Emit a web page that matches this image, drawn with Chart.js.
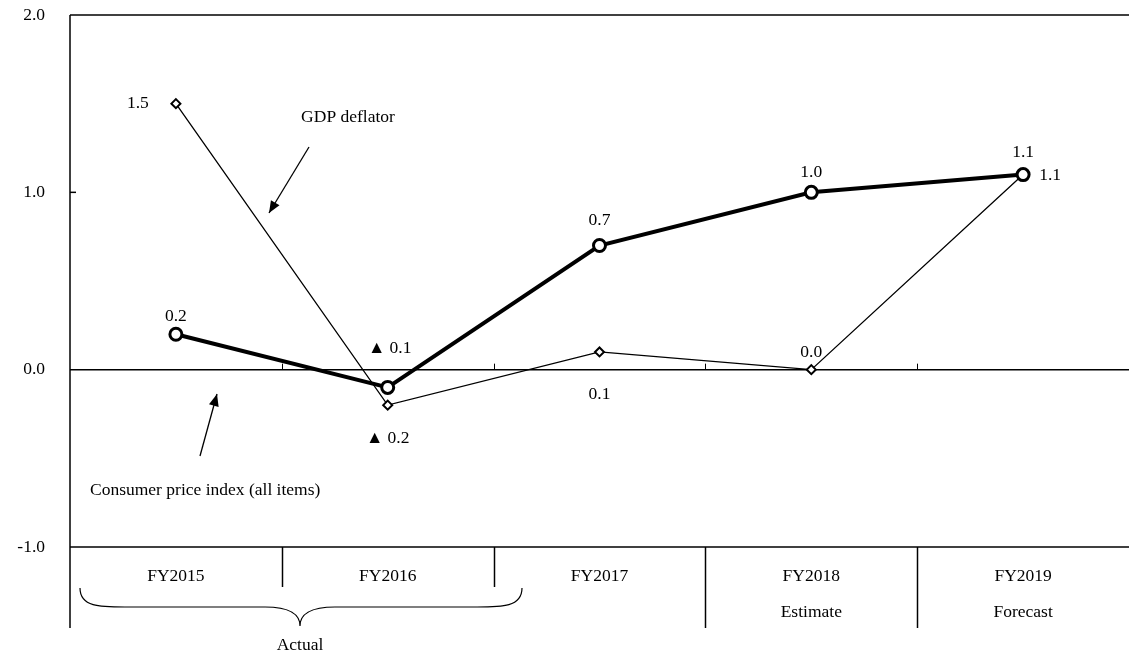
<!DOCTYPE html>
<html>
<head>
<meta charset="utf-8">
<script src="https://cdn.jsdelivr.net/npm/chart.js@4"></script>
<style>
  html, body { margin: 0; padding: 0; background: #fff; overflow: hidden; }
  #wrap { width: 1129px; height: 659px; position: relative; }
  canvas { display: block; }
</style>
</head>
<body>
<div id="wrap"><canvas id="chart"></canvas></div>
<script>
// Price indices: CPI (thick line) vs GDP deflator (thin line), y/y %
const categories = ['FY2015', 'FY2016', 'FY2017', 'FY2018', 'FY2019'];
const subLabels  = ['', '', '', 'Estimate', 'Forecast'];
const cpiValues  = [0.2, -0.1, 0.7, 1.0, 1.1];
const gdpValues  = [1.5, -0.2, 0.1, 0.0, 1.1];
const yTicks     = [-1, 0, 1, 2];

// label offsets (dx, dy) relative to each point
const cpiLabelOffsets = [[0, -18], [2, -39], [0, -25], [0, -20], [0, -22]];
const gdpLabelOffsets = [[-38, 0], [0, 33], [0, 42], [0, -17], [27, 1]];

const FONT = '17.5px "Liberation Serif", "Times New Roman", serif';

function fmt(v) {
    return v < 0 ? '\u25B2 ' + Math.abs(v).toFixed(1) : v.toFixed(1);
}

function arrow(ctx, x1, y1, x2, y2) {
    ctx.beginPath();
    ctx.moveTo(x1, y1);
    ctx.lineTo(x2, y2);
    ctx.stroke();
    const a = Math.atan2(y2 - y1, x2 - x1);
    const len = 12, w = 5;
    ctx.beginPath();
    ctx.moveTo(x2, y2);
    ctx.lineTo(x2 - len * Math.cos(a) + w * Math.sin(a), y2 - len * Math.sin(a) - w * Math.cos(a));
    ctx.lineTo(x2 - len * Math.cos(a) - w * Math.sin(a), y2 - len * Math.sin(a) + w * Math.cos(a));
    ctx.closePath();
    ctx.fill();
}

const framePlugin = {
    id: 'frame',
    beforeDatasetsDraw(chart) {
        const { ctx, chartArea: ca, scales: { x, y } } = chart;
        ctx.save();
        ctx.strokeStyle = '#000';
        ctx.lineWidth = 1.5;
        const y0 = y.getPixelForValue(0);
        const yTop = y.getPixelForValue(2);
        const yBot = y.getPixelForValue(-1);
        // top, zero and bottom lines
        [yTop, y0, yBot].forEach(py => {
            ctx.beginPath();
            ctx.moveTo(ca.left, py);
            ctx.lineTo(ca.right, py);
            ctx.stroke();
        });
        // left axis extends through the table
        ctx.beginPath();
        ctx.moveTo(ca.left, yTop);
        ctx.lineTo(ca.left, 628);
        ctx.stroke();
        // small tick at 1.0
        ctx.beginPath();
        ctx.moveTo(ca.left, y.getPixelForValue(1));
        ctx.lineTo(ca.left + 6, y.getPixelForValue(1));
        ctx.stroke();
        // category boundary ticks on zero line and table separators
        const half = (x.getPixelForValue(1) - x.getPixelForValue(0)) / 2;
        ctx.lineWidth = 1;
        for (let i = 1; i < categories.length; i++) {
            const bx = Math.round(x.getPixelForValue(i) - half) + 0.5;
            ctx.beginPath();
            ctx.moveTo(bx, y0);
            ctx.lineTo(bx, y0 - 6);
            ctx.stroke();
            ctx.lineWidth = 1.5;
            ctx.beginPath();
            ctx.moveTo(bx, yBot);
            ctx.lineTo(bx, i < 3 ? 587 : 628);
            ctx.stroke();
            ctx.lineWidth = 1;
        }
        ctx.restore();
    },
    afterDatasetsDraw(chart) {
        const { ctx, scales: { x, y } } = chart;
        ctx.save();
        ctx.font = FONT;
        ctx.fillStyle = '#000';
        ctx.strokeStyle = '#000';
        ctx.textAlign = 'center';
        ctx.textBaseline = 'middle';

        // y tick labels
        ctx.textAlign = 'right';
        yTicks.forEach(v => ctx.fillText(v.toFixed(1), 45, y.getPixelForValue(v)));

        // category table
        ctx.textAlign = 'center';
        categories.forEach((c, i) => {
            const cx = x.getPixelForValue(i);
            ctx.fillText(c, cx, 576);
            if (subLabels[i]) ctx.fillText(subLabels[i], cx, 612);
        });

        // brace under the actual years
        ctx.lineWidth = 1.2;
        const bl = 80, br = 522, bm = 300, bt = 588, bmid = 607, btip = 626;
        ctx.beginPath();
        ctx.moveTo(bl, bt);
        ctx.bezierCurveTo(bl, bmid, bl + 20, bmid, bl + 45, bmid);
        ctx.lineTo(bm - 35, bmid);
        ctx.bezierCurveTo(bm - 10, bmid, bm, bmid + 8, bm, btip);
        ctx.bezierCurveTo(bm, bmid + 8, bm + 10, bmid, bm + 35, bmid);
        ctx.lineTo(br - 45, bmid);
        ctx.bezierCurveTo(br - 20, bmid, br, bmid, br, bt);
        ctx.stroke();
        ctx.fillText('Actual', bm, 645);

        // data labels
        const metas = [chart.getDatasetMeta(0), chart.getDatasetMeta(1)];
        const offs = [cpiLabelOffsets, gdpLabelOffsets];
        const vals = [cpiValues, gdpValues];
        metas.forEach((meta, d) => {
            meta.data.forEach((pt, i) => {
                const [dx, dy] = offs[d][i];
                ctx.fillText(fmt(vals[d][i]), pt.x + dx, pt.y + dy);
            });
        });

        // annotations
        ctx.fillText('GDP deflator', 348, 117);
        ctx.textAlign = 'left';
        ctx.fillText('Consumer price index (all items)', 90, 490);
        ctx.lineWidth = 1.3;
        arrow(ctx, 309, 147, 269, 213);
        arrow(ctx, 200, 456, 217, 394);
        ctx.restore();
    }
};

new Chart(document.getElementById('chart'), {
    type: 'line',
    plugins: [framePlugin],
    data: {
        labels: categories,
        datasets: [
            {
                label: 'Consumer price index (all items)',
                data: cpiValues,
                borderColor: '#000',
                borderWidth: 4,
                pointStyle: 'circle',
                pointRadius: 6,
                pointBorderWidth: 3,
                pointBackgroundColor: '#fff',
                pointBorderColor: '#000',
                tension: 0
            },
            {
                label: 'GDP deflator',
                data: gdpValues,
                borderColor: '#000',
                borderWidth: 1.3,
                pointStyle: 'rectRot',
                pointRadius: 4.5,
                pointBorderWidth: 2,
                pointBackgroundColor: '#fff',
                pointBorderColor: '#000',
                tension: 0
            }
        ]
    },
    options: {
        responsive: true,
        maintainAspectRatio: false,
        animation: false,
        layout: { autoPadding: false, padding: { left: 70, top: 15, right: 0, bottom: 112 } },
        plugins: {
            legend: { display: false },
            tooltip: { enabled: false }
        },
        scales: {
            x: {
                type: 'category',
                offset: true,
                display: false
            },
            y: {
                min: -1,
                max: 2,
                display: false,
                ticks: { stepSize: 1 }
            }
        }
    }
});
</script>
</body>
</html>
